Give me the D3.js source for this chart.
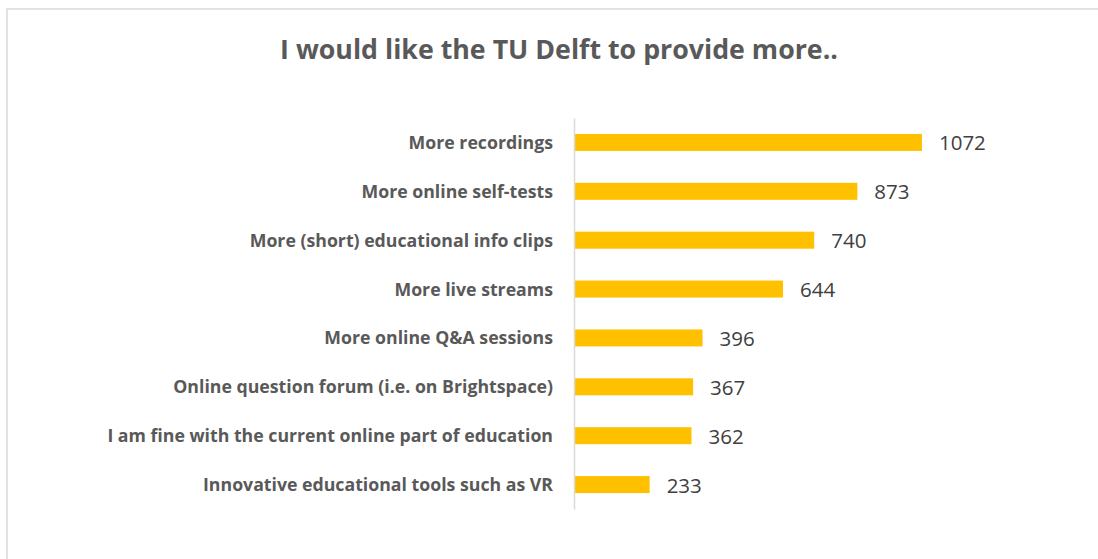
<!DOCTYPE html>
<html>
<head>
<meta charset="utf-8">
<script src="https://cdn.jsdelivr.net/npm/d3@7"></script>
<style>
  html, body { margin: 0; padding: 0; background: #ffffff; }
  #chart { width: 1098px; height: 559px; }
</style>
</head>
<body>
<div id="chart"></div>
<script>
const categories = [
  "More recordings",
  "More online self-tests",
  "More (short) educational info clips",
  "More live streams",
  "More online Q&A sessions",
  "Online question forum (i.e. on Brightspace)",
  "I am fine with the current online part of education",
  "Innovative educational tools such as VR"
];
const counts = [1072, 873, 740, 644, 396, 367, 362, 233];
const chartTitle = "I would like the TU Delft to provide more..";
const xMax = 1200;

const width = 1098;
const height = 559;
const plot = { left: 574, right: 963.5, top: 118, bottom: 509 };

const svg = d3.select("#chart")
  .append("svg")
  .attr("width", width)
  .attr("height", height);

// chart frame (only top and left edges are visible in the crop)
svg.append("path")
  .attr("d", `M7,${height} L7,9 L${width},9`)
  .attr("fill", "none")
  .attr("stroke", "#d9d9d9")
  .attr("stroke-width", 1.5);

const title = svg.append("text")
  .attr("x", 0)
  .attr("y", 0)
  .attr("text-anchor", "middle")
  .attr("font-family", "'Open Sans', sans-serif")
  .attr("font-weight", 700)
  .attr("font-size", 27)
  .attr("fill", "#595959")
  .text(chartTitle);
const titleScale = 558 / title.node().getComputedTextLength();
title.attr("transform", `translate(559,59) scale(${titleScale},1)`);

const x = d3.scaleLinear()
  .domain([0, xMax])
  .range([plot.left, plot.right]);

const y = d3.scaleBand()
  .domain(categories)
  .range([plot.top, plot.bottom])
  .paddingInner(0.652)
  .paddingOuter(0.326);

const rows = categories.map((c, i) => ({ category: c, value: counts[i] }));

svg.append("g")
  .selectAll("rect")
  .data(rows)
  .enter()
  .append("rect")
  .attr("x", x(0))
  .attr("y", (d) => y(d.category))
  .attr("width", (d) => x(d.value) - x(0))
  .attr("height", y.bandwidth())
  .attr("fill", "#ffc000");

// vertical category axis line
svg.append("g")
  .attr("transform", `translate(${x(0)},0)`)
  .call(d3.axisLeft(y).tickSize(0).tickFormat(""))
  .call((g) => g.select(".domain")
    .attr("stroke", "#d9d9d9")
    .attr("stroke-width", 1.5));

const labels = svg.append("g")
  .selectAll("text")
  .data(rows)
  .enter()
  .append("text")
  .attr("text-anchor", "end")
  .attr("font-family", "'Open Sans', sans-serif")
  .attr("font-weight", 700)
  .attr("font-size", 18)
  .attr("fill", "#595959")
  .text((d) => d.category);

const longest = d3.max(labels.nodes(), (n) => n.getComputedTextLength());
const labelScale = Math.min(1, 446 / longest);
labels.attr("transform", (d) =>
  `translate(553,${y(d.category) + y.bandwidth() / 2 + 6.5}) scale(${labelScale},1)`);

svg.append("g")
  .selectAll("text")
  .data(rows)
  .enter()
  .append("text")
  .attr("x", (d) => x(d.value) + 17)
  .attr("y", (d) => y(d.category) + y.bandwidth() / 2 + 8)
  .attr("font-family", "'Open Sans', sans-serif")
  .attr("font-size", 20.5)
  .attr("fill", "#404040")
  .text((d) => d.value);
</script>
</body>
</html>
